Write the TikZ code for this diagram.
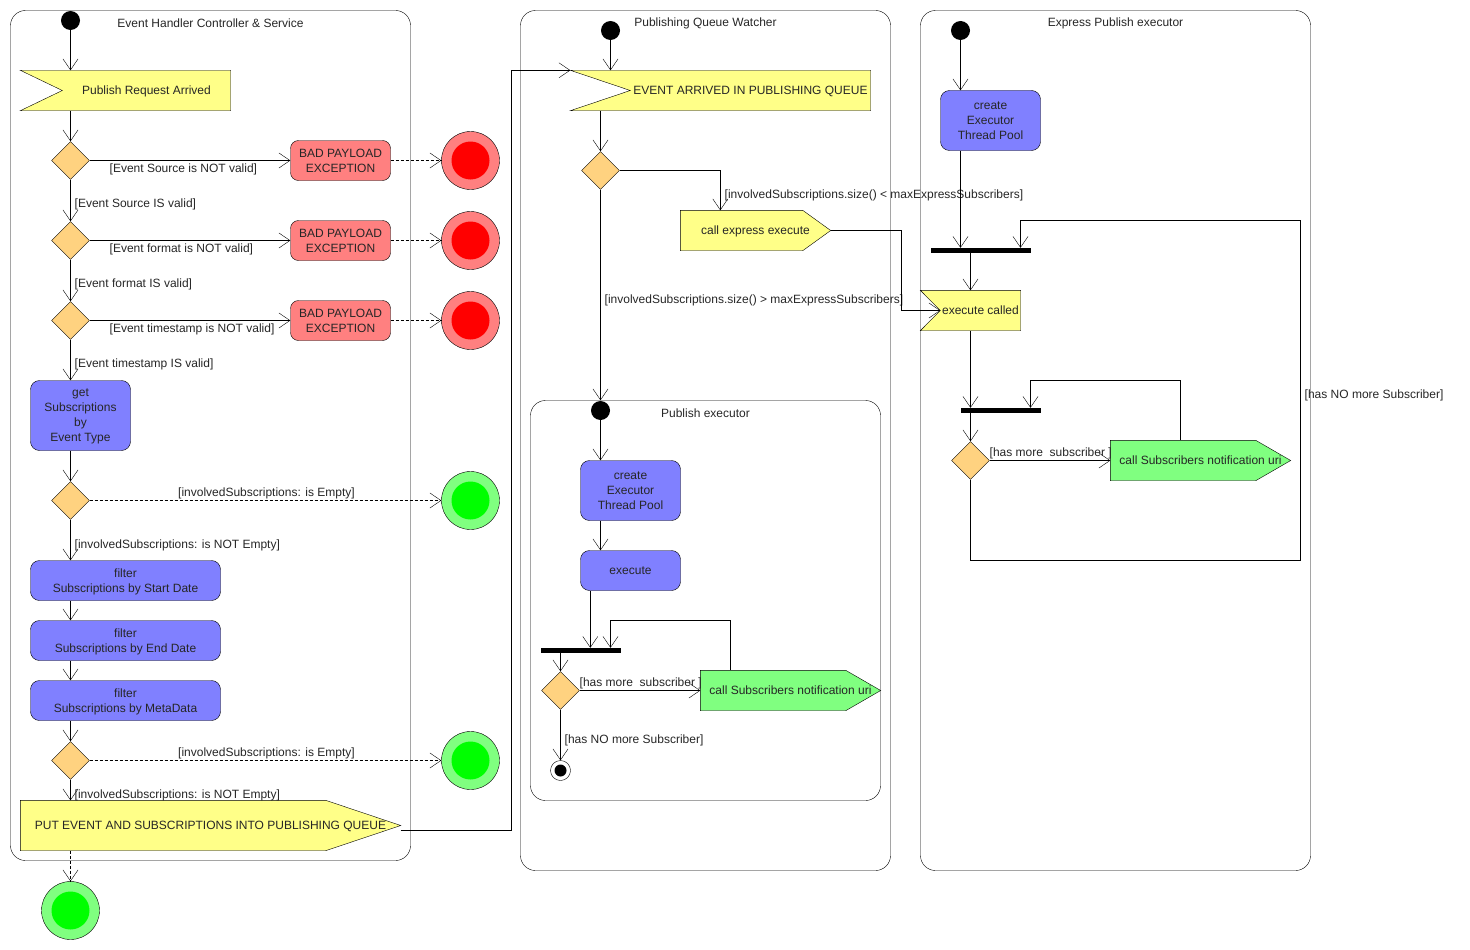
\documentclass[tikz,border=0pt]{standalone}
\usepackage{fontspec}
\setmainfont{Liberation Sans}
\usetikzlibrary{arrows.meta,shapes.geometric,calc}
\definecolor{sigyellow}{HTML}{FFFF88}
\definecolor{actblue}{HTML}{8080FF}
\definecolor{badred}{HTML}{FF8080}
\definecolor{endgreen}{HTML}{80FF80}
\definecolor{decor}{HTML}{FFD280}
\definecolor{txt}{HTML}{262626}
\pgfdeclarelayer{bg}
\pgfsetlayers{bg,main}
\newcommand\acceptpoly[3]{\begin{pgfonlayer}{bg}\draw[fill=#3] (#1.north west) -- (#1.north east) -- (#1.south east) -- (#1.south west) -- ($(#1.west)+(#2,0)$) -- cycle;\end{pgfonlayer}}
\newcommand\sendpoly[3]{\begin{pgfonlayer}{bg}\draw[fill=#3] (#1.north west) -- ($(#1.north east)-(#2,0)$) -- (#1.east) -- ($(#1.south east)-(#2,0)$) -- (#1.south west) -- cycle;\end{pgfonlayer}}
\begin{document}
\begin{tikzpicture}[x=1pt,y=-1pt,line width=1pt,
  font=\fontsize{12pt}{15pt}\selectfont,
  lane/.style={draw, rounded corners=15pt, inner sep=0pt},
  ttl/.style={text=txt, inner sep=0pt},
  act/.style={draw, fill=actblue, rounded corners=9pt, align=center, inner sep=0pt, text=txt, text depth=0pt},
  bad/.style={draw, fill=badred, rounded corners=8pt, align=center, minimum width=100pt, minimum height=40pt, inner sep=0pt, text=txt, text depth=0pt},
  dec/.style={draw, fill=decor, diamond, minimum width=38pt, minimum height=38pt, inner sep=0pt},
  startn/.style={circle, fill=black, minimum size=19pt, inner sep=0pt},
  endred/.style={circle, draw, fill=badred, minimum size=58pt, inner sep=0pt, path picture={\fill[red] (path picture bounding box.center) circle (19pt);}},
  endgrn/.style={circle, draw, fill=endgreen, minimum size=58pt, inner sep=0pt, path picture={\fill[green] (path picture bounding box.center) circle (19pt);}},
  finn/.style={circle, draw, fill=white, minimum size=20pt, inner sep=0pt, path picture={\fill[black] (path picture bounding box.center) circle (6pt);}},
  sigbox/.style={inner sep=0pt, text=txt, text depth=0pt},
  barn/.style={fill=black, minimum height=5pt, inner sep=0pt},
  flow/.style={-{Straight Barb[length=11pt,width=15pt]}},
  dflow/.style={flow, dash pattern=on 3pt off 2pt},
  lbl/.style={text=txt, inner sep=0pt, anchor=west}]
\useasboundingbox (-0.5,-0.5) rectangle (1469.5,949.5);

% lanes
\begin{pgfonlayer}{bg}
\node[lane, minimum width=400pt, minimum height=850pt] (c1) at (210,435) {};
\node[lane, minimum width=370pt, minimum height=860pt] (c2) at (705,440) {};
\node[lane, minimum width=390pt, minimum height=860pt] (c3) at (1115,440) {};
\node[lane, minimum width=350pt, minimum height=400pt] (c4) at (705,600) {};
\end{pgfonlayer}
\node[ttl] (t1) at (210,23) {Event Handler Controller \& Service};
\node[ttl] (t2) at (705,23) {Publishing Queue Watcher};
\node[ttl] (t3) at (1115,23) {Express Publish executor};
\node[ttl] (t4) at (705,413) {Publish executor};

% ---------- left lane
\node[startn] (s1) at (70,20) {};
\node[sigbox, minimum width=210pt, minimum height=40pt] (pra) at (125,90) {\hspace*{42pt}Publish Request Arrived};
\acceptpoly{pra}{42}{sigyellow}
\node[dec] (d1) at (70,160) {};
\node[dec] (d2) at (70,240) {};
\node[dec] (d3) at (70,320) {};
\node[bad] (b1) at (340,160) {BAD PAYLOAD\\EXCEPTION};
\node[bad] (b2) at (340,240) {BAD PAYLOAD\\EXCEPTION};
\node[bad] (b3) at (340,320) {BAD PAYLOAD\\EXCEPTION};
\node[endred] (e1) at (470,160) {};
\node[endred] (e2) at (470,240) {};
\node[endred] (e3) at (470,320) {};
\node[act, minimum width=100pt, minimum height=70pt] (get) at (80,415) {get\\Subscriptions\\by\\Event Type};
\node[dec] (d4) at (70,500) {};
\node[endgrn] (e4) at (470,500) {};
\node[act, minimum width=190pt, minimum height=40pt] (f1) at (125,580) {filter\\Subscriptions by Start Date};
\node[act, minimum width=190pt, minimum height=40pt] (f2) at (125,640) {filter\\Subscriptions by End Date};
\node[act, minimum width=190pt, minimum height=40pt] (f3) at (125,700) {filter\\Subscriptions by MetaData};
\node[dec] (d5) at (70,760) {};
\node[endgrn] (e5) at (470,760) {};
\node[sigbox, minimum width=380pt, minimum height=50pt] (put) at (210,825) {PUT EVENT AND SUBSCRIPTIONS INTO PUBLISHING QUEUE};
\sendpoly{put}{75}{sigyellow}
\node[endgrn] (e6) at (70,910) {};

\draw[flow] (s1.south) -- (s1 |- pra.north);
\draw[flow] (d1 |- pra.south) -- (d1.north);
\draw[flow] (d1.east) -- (b1.west);
\draw[dflow] (b1.east) -- (e1.west);
\draw[flow] (d1.south) -- (d2.north);
\draw[flow] (d2.east) -- (b2.west);
\draw[dflow] (b2.east) -- (e2.west);
\draw[flow] (d2.south) -- (d3.north);
\draw[flow] (d3.east) -- (b3.west);
\draw[dflow] (b3.east) -- (e3.west);
\draw[flow] (d3.south) -- (d3.south |- get.north);
\draw[flow] (d4 |- get.south) -- (d4.north);
\draw[dflow] (d4.east) -- (e4.west);
\draw[flow] (d4.south) -- (d4.south |- f1.north);
\draw[flow] (d4 |- f1.south) -- (d4 |- f2.north);
\draw[flow] (d4 |- f2.south) -- (d4 |- f3.north);
\draw[flow] (d5 |- f3.south) -- (d5.north);
\draw[dflow] (d5.east) -- (e5.west);
\draw[flow] (d5.south) -- (d5.south |- put.north);
\draw[dflow] (e6 |- put.south) -- (e6.north);

\node[lbl] (l1) at (109,169) {[Event Source is NOT valid]};
\node[lbl] (l2) at (74,204) {[Event Source IS valid]};
\node[lbl] (l3) at (109,249) {[Event format is NOT valid]};
\node[lbl] (l4) at (74,284) {[Event format IS valid]};
\node[lbl] (l5) at (109,329) {[Event timestamp is NOT valid]};
\node[lbl] (l6) at (74,364) {[Event timestamp IS valid]};
\node[lbl] (l7) at (177.5,492.5) {[involvedSubscriptions: is Empty]};
\node[lbl] (l8) at (74,544.5) {[involvedSubscriptions: is NOT Empty]};
\node[lbl] (l9) at (177.5,752.5) {[involvedSubscriptions: is Empty]};
\node[lbl] (l10) at (74,794.5) {[involvedSubscriptions: is NOT Empty]};

% ---------- middle lane
\node[startn] (s2) at (610,30) {};
\node[sigbox, minimum width=300pt, minimum height=40pt] (ea) at (720,90) {\hspace*{60pt}EVENT ARRIVED IN PUBLISHING QUEUE};
\acceptpoly{ea}{60}{sigyellow}
\node[dec] (d6) at (600,170) {};
\node[sigbox, minimum width=150pt, minimum height=40pt] (ce) at (755,230) {call express execute};
\sendpoly{ce}{28}{sigyellow}

\draw[flow] ($(put.east)+(0,5)$) -- ++(110,0) |- (ea.north west);
\draw[flow] (s2.south) -- (s2 |- ea.north);
\draw[flow] (d6 |- ea.south) -- (d6.north);
\coordinate (cetop) at ($(ce.north west)+(40,0)$);
\draw[flow] (d6.east) -| (cetop);
\draw[flow] (d6.south) -- (d6.south |- c4.north);
\node[lbl] (l11) at (724,194.5) {[involvedSubscriptions.size() < maxExpressSubscribers]};
\node[lbl] (l12) at (604,299.5) {[involvedSubscriptions.size() > maxExpressSubscribers]};

% inner lane
\node[startn] (s4) at (600,410) {};
\node[act, minimum width=100pt, minimum height=60pt] (cr1) at (630,490) {create\\Executor\\Thread Pool};
\node[act, minimum width=100pt, minimum height=40pt] (ex1) at (630,570) {execute};
\node[barn, minimum width=80pt] (bar0) at (580,650) {};
\node[dec] (d7) at (560,690) {};
\node[sigbox, minimum width=180pt, minimum height=40pt] (cs1) at (790,690) {call Subscribers notification uri};
\sendpoly{cs1}{35}{endgreen}
\node[finn] (fin) at (560,770) {};

\draw[flow] (s4.south) -- (s4 |- cr1.north);
\draw[flow] (s4 |- cr1.south) -- (s4 |- ex1.north);
\coordinate (ex1o) at ($(ex1.south west)+(10,0)$);
\draw[flow] (ex1o) -- (ex1o |- bar0.north);
\draw[flow] (d7 |- bar0.south) -- (d7.north);
\draw[flow] (d7.east) -- (cs1.west);
\coordinate (l1a) at ($(cs1.north west)+(30,0)$);
\coordinate (l1b) at ($(bar0.north)+(30,0)$);
\draw[flow] (l1a) -- ++(0,-50) -| (l1b);
\draw[flow] (d7.south) -- (fin.north);
\node[lbl] (l13) at (579,682.5) {[has more\ \ subscriber\ ]};
\node[lbl] (l14) at (564,739.5) {[has NO more Subscriber]};

% ---------- right lane
\node[startn] (s3) at (960,30) {};
\node[act, minimum width=100pt, minimum height=60pt] (cr2) at (990,120) {create\\Executor\\Thread Pool};
\node[barn, minimum width=100pt] (bar1) at (980,250) {};
\node[sigbox, minimum width=100pt, minimum height=40pt] (ec) at (970,310) {\hspace*{20pt}execute called};
\acceptpoly{ec}{20}{sigyellow}
\node[barn, minimum width=80pt] (bar2) at (1000,410) {};
\node[dec] (d8) at (970,460) {};
\node[sigbox, minimum width=180pt, minimum height=40pt] (cs2) at (1200,460) {call Subscribers notification uri};
\sendpoly{cs2}{35}{endgreen}

\coordinate (ecin) at ($(ec.west)+(20,0)$);
\draw[flow] (ce.east) -- ++(70,0) |- (ecin);
\draw[flow] (s3.south) -- (s3 |- cr2.north);
\draw[flow] (s3 |- cr2.south) -- (s3 |- bar1.north);
\draw[flow] (ec |- bar1.south) -- (ec.north);
\draw[flow] (ec.south) -- (ec.south |- bar2.north);
\draw[flow] (d8 |- bar2.south) -- (d8.north);
\draw[flow] (d8.east) -- (cs2.west);
\coordinate (l2a) at ($(cs2.north west)+(70,0)$);
\coordinate (l2b) at ($(bar2.north)+(30,0)$);
\draw[flow] (l2a) -- ++(0,-60) -| (l2b);
\coordinate (l3b) at ($(bar1.north)+(40,0)$);
\coordinate (l3d) at (1300,560);
\coordinate (l3c) at (1300,220);
\draw[flow] (d8.south) |- (l3d) -- (l3c) -| (l3b);
\node[lbl] (l15) at (989,452.5) {[has more\ \ subscriber\ ]};
\node[lbl] (l16) at (1304,394.5) {[has NO more Subscriber]};
\end{tikzpicture}
\end{document}
